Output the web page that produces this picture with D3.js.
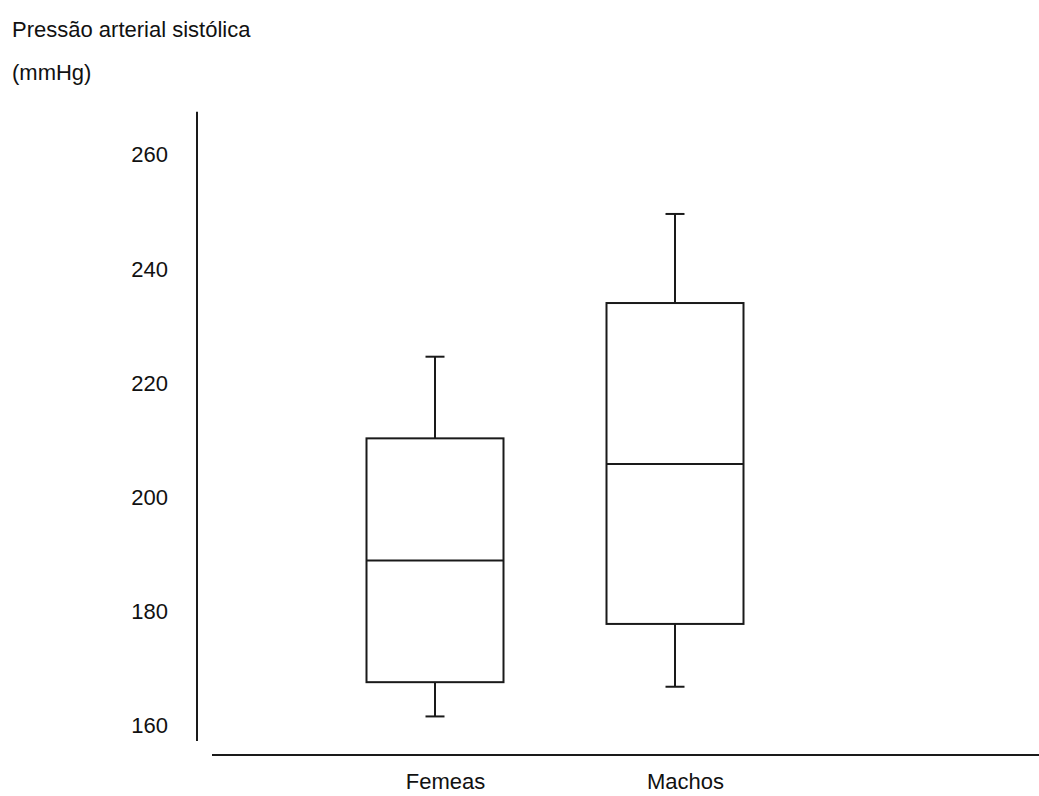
<!DOCTYPE html>
<html>
<head>
<meta charset="utf-8">
<script src="https://cdn.jsdelivr.net/npm/d3@7"></script>
<style>
  html, body { margin: 0; padding: 0; background: #fff; }
  svg { display: block; }
  text { font-family: "Liberation Sans", Arial, sans-serif; fill: #111; }
</style>
</head>
<body>
<svg id="chart" width="1039" height="796"></svg>
<script>
// ---- data ----
const categories = ["Femeas", "Machos"];
const whiskerHigh = [224.5, 249.5];
const q3 = [210.2, 233.9];
const median = [188.8, 205.7];
const q1 = [167.5, 177.7];
const whiskerLow = [161.5, 166.7];
const yTicks = [160, 180, 200, 220, 240, 260];
const titleLines = ["Pressão arterial sistólica", "(mmHg)"];

const rows = categories.map((c, i) => ({
  cat: c, hi: whiskerHigh[i], q3: q3[i], med: median[i], q1: q1[i], lo: whiskerLow[i]
}));

const svg = d3.select("#chart");
const ink = "#1a1a1a";
const fontSize = 22;

const y = d3.scaleLinear().domain([160, 260]).range([725, 154]);
const x = d3.scalePoint().domain(categories).range([195, 915]).padding(1);

const boxW = 137, capW = 19;

// title
svg.selectAll("text.title").data(titleLines).join("text")
  .attr("class", "title")
  .attr("x", 12)
  .attr("y", (d, i) => 37 + i * 43)
  .attr("font-size", fontSize)
  .text(d => d);

// y axis
const axisX = 197;
svg.append("line")
  .attr("x1", axisX).attr("x2", axisX)
  .attr("y1", y(267.4)).attr("y2", y(157.2))
  .attr("stroke", ink).attr("stroke-width", 2);

const yAxis = svg.append("g")
  .attr("transform", `translate(${axisX},0)`)
  .call(d3.axisLeft(y).tickValues(yTicks).tickSize(0).tickPadding(29).tickFormat(d3.format("d")));
yAxis.select(".domain").remove();
yAxis.selectAll("text")
  .attr("font-size", fontSize)
  .attr("font-family", "Liberation Sans, Arial, sans-serif")
  .attr("fill", "#111")
  .attr("dy", "0.36em");

// x axis
const axisY = 755;
svg.append("line")
  .attr("x1", 212).attr("x2", 1039)
  .attr("y1", axisY).attr("y2", axisY)
  .attr("stroke", ink).attr("stroke-width", 2);

const xAxis = svg.append("g")
  .attr("transform", `translate(10,${axisY})`)
  .call(d3.axisBottom(x).tickSize(0).tickPadding(18));
xAxis.select(".domain").remove();
xAxis.selectAll("text")
  .attr("font-size", fontSize)
  .attr("font-family", "Liberation Sans, Arial, sans-serif")
  .attr("fill", "#111");

// boxes
const g = svg.append("g").attr("fill", "none").attr("stroke", ink).attr("stroke-width", 2);
const box = g.selectAll("g.box").data(rows).join("g").attr("class", "box");

// whiskers
box.append("line")
  .attr("x1", d => x(d.cat)).attr("x2", d => x(d.cat))
  .attr("y1", d => y(d.hi)).attr("y2", d => y(d.q3));
box.append("line")
  .attr("x1", d => x(d.cat)).attr("x2", d => x(d.cat))
  .attr("y1", d => y(d.q1)).attr("y2", d => y(d.lo));
box.append("line")
  .attr("x1", d => x(d.cat) - capW / 2).attr("x2", d => x(d.cat) + capW / 2)
  .attr("y1", d => y(d.hi)).attr("y2", d => y(d.hi));
box.append("line")
  .attr("x1", d => x(d.cat) - capW / 2).attr("x2", d => x(d.cat) + capW / 2)
  .attr("y1", d => y(d.lo)).attr("y2", d => y(d.lo));
// box
box.append("rect")
  .attr("x", d => x(d.cat) - boxW / 2)
  .attr("y", d => y(d.q3))
  .attr("width", boxW)
  .attr("height", d => y(d.q1) - y(d.q3))
  .attr("fill", "#fff");
// median
box.append("line")
  .attr("x1", d => x(d.cat) - boxW / 2).attr("x2", d => x(d.cat) + boxW / 2)
  .attr("y1", d => y(d.med)).attr("y2", d => y(d.med));
</script>
</body>
</html>
